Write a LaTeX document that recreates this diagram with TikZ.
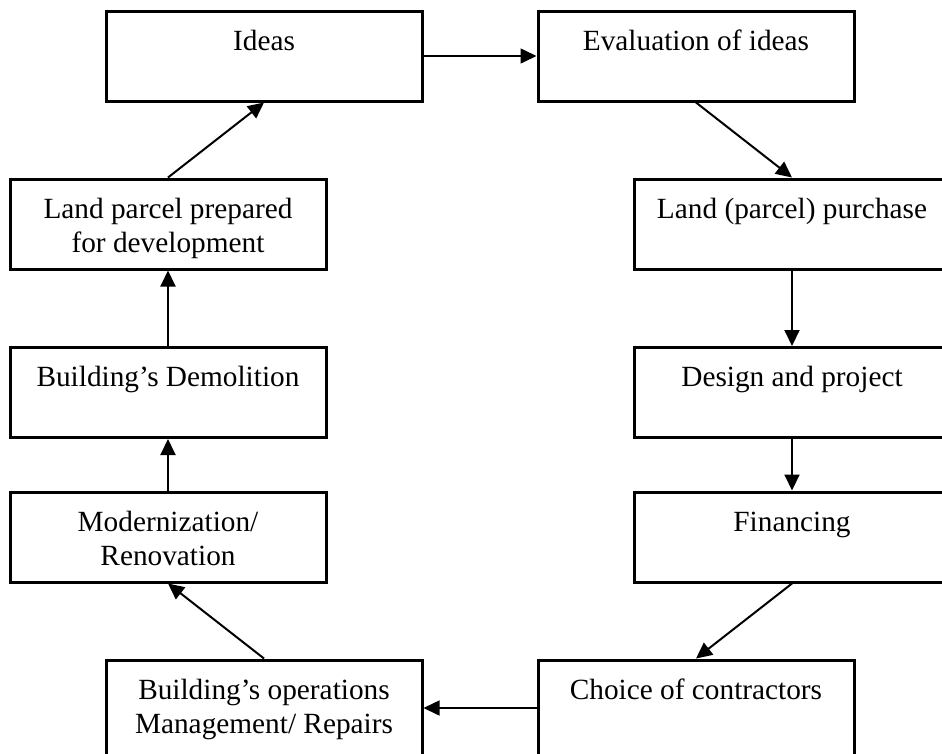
\documentclass[tikz,border=0pt]{standalone}
\usepackage{fontspec}
\setmainfont{Liberation Serif}
\usetikzlibrary{arrows.meta}
\begin{document}
\begin{tikzpicture}[x=1pt,y=-1pt,
  stage/.style={draw=black, line width=3pt, rectangle, inner sep=0pt,
                minimum width=316pt, minimum height=90pt},
  tallstage/.style={stage, minimum height=96pt},
  label/.style={anchor=north, inner sep=0pt, align=center,
                font=\fontsize{29.3}{34}\selectfont},
  flow/.style={draw=black, line width=2pt,
               -{Triangle[length=16pt,width=15pt]}}]
  \useasboundingbox (0,0) rectangle (942,753);
  \clip (0,0) rectangle (942,753);
  \fill[white] (0,0) rectangle (942,753);

  % boxes: top row, two side columns, bottom row
  \node[stage] (ideas)   at (264,56)    {};
  \node[stage] (eval)    at (696,56)    {};
  \node[stage] (landbuy) at (792,224)   {};
  \node[stage] (design)  at (792,392.5) {};
  \node[stage] (finance) at (792,537)   {};
  \node[tallstage] (choice) at (696,708) {};
  \node[tallstage] (ops)    at (264,708) {};
  \node[stage] (modern)  at (168,537)   {};
  \node[stage] (demol)   at (168,392.5) {};
  \node[stage] (prep)    at (168,224)   {};

  % texts, set near the top of each box
  \node[label] (ideasT)   at ([yshift=-16.5pt]ideas.north)   {\strut Ideas};
  \node[label] (evalT)    at ([yshift=-16.5pt]eval.north)    {\strut Evaluation of ideas};
  \node[label] (landbuyT) at ([yshift=-16.5pt]landbuy.north) {\strut Land (parcel) purchase};
  \node[label] (designT)  at ([yshift=-16.5pt]design.north)  {\strut Design and project};
  \node[label] (financeT) at ([yshift=-16.5pt]finance.north) {\strut Financing};
  \node[label] (choiceT)  at ([yshift=-16.5pt]choice.north)  {\strut Choice of contractors};
  \node[label] (opsT)     at ([yshift=-16.5pt]ops.north)     {\strut Building’s operations\\Management/ Repairs};
  \node[label] (modernT)  at ([yshift=-16.5pt]modern.north)  {\strut Modernization/\\Renovation};
  \node[label] (demolT)   at ([yshift=-16.5pt]demol.north)   {\strut Building’s Demolition};
  \node[label] (prepT)    at ([yshift=-16.5pt]prep.north)    {\strut Land parcel prepared\\for development};

  % the cycle of stages
  \draw[flow, line width=1.6pt] (ideas.east) -- (eval.west);
  \draw[flow] (eval.south) -- (landbuy.north);
  \draw[flow] (landbuy.south) -- (design.north);
  \draw[flow] (design.south) -- (finance.north);
  \draw[flow] (finance.south) -- (choice.north);
  \draw[flow, line width=1.6pt] (choice.west) -- (ops.east);
  \draw[flow] (ops.north) -- (modern.south);
  \draw[flow] (modern.north) -- (demol.south);
  \draw[flow] (demol.north) -- (prep.south);
  \draw[flow] (prep.north) -- (ideas.south);
\end{tikzpicture}
\end{document}
